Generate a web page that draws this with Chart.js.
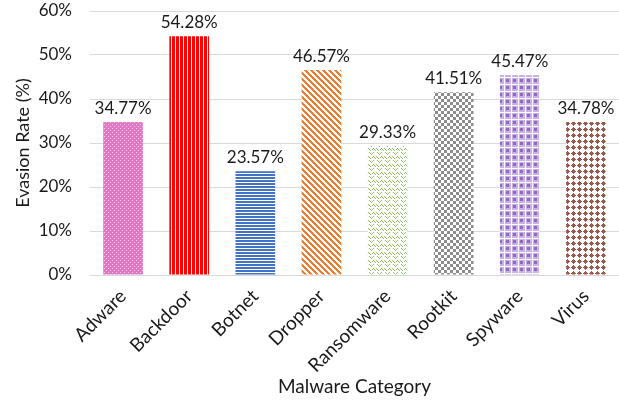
<!DOCTYPE html>
<html>
<head>
<meta charset="utf-8">
<script src="https://cdn.jsdelivr.net/npm/chart.js@4"></script>
<style>
  html, body { margin: 0; padding: 0; background: #fff; }
  #wrap { width: 619px; height: 400px; }
</style>
</head>
<body>
<div id="wrap"><canvas id="chart"></canvas></div>
<script>
const categories = ['Adware', 'Backdoor', 'Botnet', 'Dropper', 'Ransomware', 'Rootkit', 'Spyware', 'Virus'];
const evasionRates = [34.77, 54.28, 23.57, 46.57, 29.33, 41.51, 45.47, 34.78];
const yTicks = [0, 10, 20, 30, 40, 50, 60];

// build a repeating fill from a small tile; paint(x, y) returns a colour or null
function makePattern(w, h, bg, paint) {
  const c = document.createElement('canvas');
  c.width = w;
  c.height = h;
  const ctx = c.getContext('2d');
  if (bg) {
    ctx.fillStyle = bg;
    ctx.fillRect(0, 0, w, h);
  }
  for (let y = 0; y < h; y++) {
    for (let x = 0; x < w; x++) {
      const col = paint(x, y);
      if (col) {
        ctx.fillStyle = col;
        ctx.fillRect(x, y, 1, 1);
      }
    }
  }
  return ctx.createPattern(c, 'repeat');
}

const greenDots = ['1,0', '2,1', '3,2', '4,1', '5,0', '0,4', '1,5', '2,6', '5,4', '6,5', '7,6', '4,5'];

const fills = [
  // Adware: pink with light dots
  makePattern(4, 4, '#e375c6', (x, y) => ((x + y) % 4 === 0 && x % 2 === 0) ? '#f7cdea' : null),
  // Backdoor: red vertical stripes
  makePattern(4, 1, '#ffffff', x => x < 3 ? '#ff0000' : null),
  // Botnet: blue horizontal stripes
  makePattern(1, 3, '#ffffff', (x, y) => y < 2 ? '#4472c4' : null),
  // Dropper: orange diagonal stripes
  makePattern(6, 6, '#ffffff', (x, y) => ((x - y + 12) % 6) < 3 ? '#ed7d31' : null),
  // Ransomware: light green weave
  makePattern(8, 8, '#ffffff', (x, y) => greenDots.includes(x + ',' + y) ? '#8cc168' : null),
  // Rootkit: grey checkerboard
  makePattern(6, 6, '#ffffff', (x, y) => ((Math.floor(x / 3) + Math.floor(y / 3)) % 2 === 0) ? '#8c8c8c' : null),
  // Spyware: purple plaid
  makePattern(7, 7, '#c8b1e4', (x, y) => {
    if (x === 0 || y === 0) return '#ffffff';
    if (x >= 2 && x <= 4 && y >= 2 && y <= 4) return '#9466c8';
    return null;
  }),
  // Virus: brown crosses on white
  makePattern(6, 6, '#ffffff', (x, y) => (Math.abs(x - 3) + Math.abs(y - 3) <= 2) ? '#9b5a4c' : null),
];

const FONT = 'Lato, "Open Sans", sans-serif';

const valueLabels = {
  id: 'valueLabels',
  afterDatasetsDraw(chart) {
    const ctx = chart.ctx;
    const meta = chart.getDatasetMeta(0);
    ctx.save();
    ctx.font = '17px ' + FONT;
    ctx.fillStyle = '#1a1a1a';
    ctx.textAlign = 'center';
    ctx.textBaseline = 'bottom';
    meta.data.forEach((bar, i) => {
      ctx.fillText(evasionRates[i].toFixed(2) + '%', bar.x, bar.y - 5);
    });
    ctx.restore();
  }
};

new Chart(document.getElementById('chart'), {
  type: 'bar',
  data: {
    labels: categories,
    datasets: [{
      data: evasionRates,
      backgroundColor: fills,
      borderWidth: 0,
      barPercentage: 0.6,
      categoryPercentage: 1.0,
    }],
  },
  options: {
    responsive: true,
    maintainAspectRatio: false,
    animation: false,
    layout: { padding: { top: 11, right: 0, left: 12, bottom: 2 } },
    plugins: {
      legend: { display: false },
      tooltip: { enabled: false },
    },
    scales: {
      x: {
        afterFit: scale => {
          scale.height = 123;
          scale.paddingLeft = 0;
          scale.paddingRight = 0;
        },
        grid: { display: false, drawTicks: false },
        border: { color: '#d9d9d9', width: 1 },
        ticks: {
          color: '#1a1a1a',
          font: { family: FONT, size: 19 },
          maxRotation: 45,
          minRotation: 45,
          padding: 10,
        },
        title: {
          display: true,
          text: 'Malware Category',
          color: '#1a1a1a',
          font: { family: FONT, size: 19 },
          padding: { top: 0, bottom: 0 },
        },
      },
      y: {
        min: 0,
        max: 60,
        afterBuildTicks: scale => { scale.ticks = yTicks.map(v => ({ value: v })); },
        afterFit: scale => {
          scale.width = 78;
          scale.paddingTop = 0;
          scale.paddingBottom = 0;
        },
        grid: { color: '#d9d9d9', drawTicks: false },
        border: { display: false },
        ticks: {
          color: '#1a1a1a',
          font: { family: FONT, size: 17 },
          padding: 18,
          callback: v => v + '%',
        },
        title: {
          display: true,
          text: 'Evasion Rate (%)',
          color: '#1a1a1a',
          font: { family: FONT, size: 18 },
          padding: { top: 0, bottom: 0 },
        },
      },
    },
  },
  plugins: [valueLabels],
});
</script>
</body>
</html>
